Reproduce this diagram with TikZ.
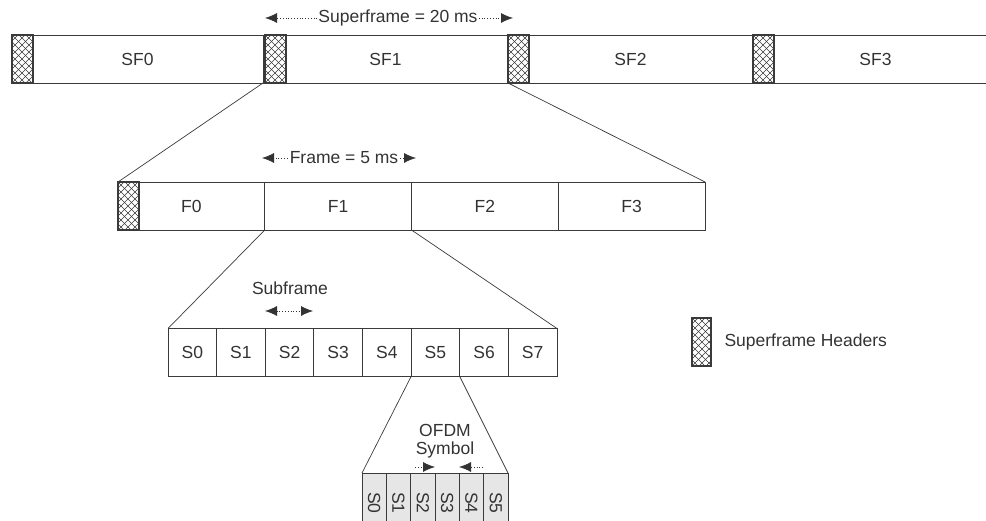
\documentclass[tikz,border=0pt]{standalone}
\usepackage{fontspec}
\setmainfont{Liberation Sans}
\usetikzlibrary{arrows.meta,positioning}
\definecolor{fr-text}{HTML}{333333}
\definecolor{fr-line}{HTML}{3A3A3A}
\definecolor{fr-sym}{HTML}{E6E6E6}

\begin{document}
\begin{tikzpicture}[
    x=1pt, y=-1pt,
    node distance=0pt,
    font=\fontsize{17.5}{18}\selectfont,
    text=fr-text
  ]
  \tikzset{
    spantip/.tip={Latex[length=12pt,width=10pt]},
    cellbox/.style={draw=fr-line, line width=0.9pt, inner sep=0pt, outer sep=0pt, minimum height=48pt},
    hdrbox/.style={draw=fr-line, line width=1.4pt, inner sep=0pt, outer sep=0pt, minimum width=21pt, minimum height=48pt, fill=white,
      path picture={
        \foreach \k in {-56,-49,...,28} {
          \draw[fr-line, line width=0.5pt] ([xshift=\k pt]path picture bounding box.south west) -- ++(60,-60);
          \draw[fr-line, line width=0.5pt] ([xshift=\k pt]path picture bounding box.north west) -- ++(60,60);
        }
      }},
    symbox/.style={cellbox, fill=fr-sym, minimum width=24.333pt, minimum height=60pt},
    zoomline/.style={fr-line, line width=0.7pt},
    spanarrow/.style={-spantip, fr-text, dotted, line width=0.8pt}
  }

  \useasboundingbox (0,0) rectangle (986,521);
  \clip (0,0) rectangle (986,521);

  % superframes
  \node (sf0) [cellbox, minimum width=251pt, anchor=west] at (12,59) {SF0};
  \node (sf1) [cellbox, minimum width=245pt, right=of sf0] {SF1};
  \node (sf2) [cellbox, minimum width=245pt, right=of sf1] {SF2};
  \node (sf3) [cellbox, minimum width=245pt, right=of sf2] {SF3};
  \node (sf0h) [hdrbox, anchor=west] at (sf0.west) {};
  \node (sf1h) [hdrbox, anchor=west] at ([xshift=2pt]sf1.west) {};
  \node (sf2h) [hdrbox, anchor=west] at (sf2.west) {};
  \node (sf3h) [hdrbox, anchor=west] at (sf3.west) {};

  % frames
  \node (f0) [cellbox, minimum width=146.75pt, anchor=west] at (118,206) {F0};
  \node (f1) [cellbox, minimum width=146.75pt, right=of f0] {F1};
  \node (f2) [cellbox, minimum width=146.75pt, right=of f1] {F2};
  \node (f3) [cellbox, minimum width=146.75pt, right=of f2] {F3};
  \node (fh) [hdrbox, anchor=west] at (f0.west) {};

  \draw[zoomline] (sf1.south west) -- (f0.north west);
  \draw[zoomline] (sf1.south east) -- (f3.north east);

  % subframes
  \foreach \i in {0,...,7}
    \node (s\i) [cellbox, minimum width=48.625pt, anchor=west] at ({168+48.625*\i},352.5) {S\i};

  \draw[zoomline] (f1.south west) -- (s0.north west);
  \draw[zoomline] (f1.south east) -- (s7.north east);

  % OFDM symbols
  \foreach \i in {0,...,5}
    \node (o\i) [symbox, anchor=north west] at ({362+24.333*\i},473) {\rotatebox{-90}{S\i}};

  \draw[zoomline] (s5.south west) -- (o0.north west);
  \draw[zoomline] (s5.south east) -- (o5.north east);

  % durations
  \coordinate (sfl) at (265,18);
  \coordinate (sfr) at (513,18);
  \node (sftxt) [inner sep=1pt] at (398,18) {Superframe = 20 ms};
  \draw[spanarrow] (sftxt) -- (sfl);
  \draw[spanarrow] (sftxt) -- (sfr);

  \coordinate (frl) at (262,158);
  \coordinate (frr) at (416,158);
  \node (frtxt) [inner sep=2pt] at (344,158) {Frame = 5 ms};
  \draw[spanarrow] (frtxt) -- (frl);
  \draw[spanarrow] (frtxt) -- (frr);

  \node (subtxt) at (290,288) {Subframe};
  \coordinate (subl) at (265,311);
  \coordinate (subr) at (313,311);
  \draw[spanarrow, spantip-spantip] (subl) -- (subr);

  \node (symtxt) [align=center] at (445,441) {OFDM\\Symbol};
  \coordinate (symla) at (415,467);
  \coordinate (symlb) at (435,467);
  \coordinate (symra) at (483,467);
  \coordinate (symrb) at (459,467);
  \draw[spanarrow] (symla) -- (symlb);
  \draw[spanarrow] (symra) -- (symrb);

  % legend
  \node (lgd) [hdrbox, minimum width=19pt, anchor=north west] at (692,318) {};
  \node (lgdtxt) [right=10pt of lgd] {Superframe Headers};
\end{tikzpicture}
\end{document}
